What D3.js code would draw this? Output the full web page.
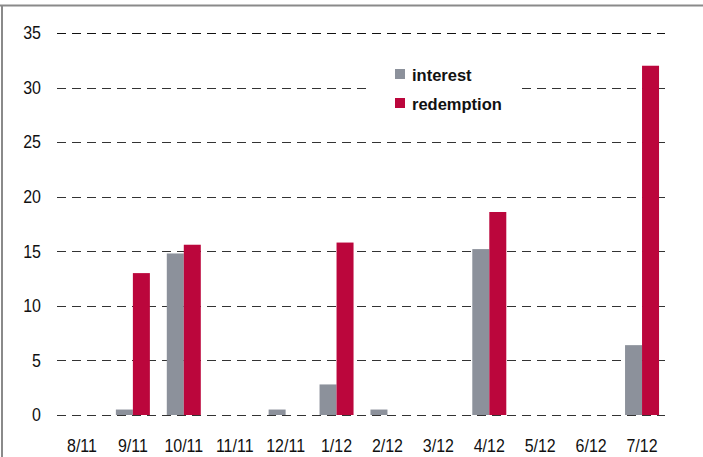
<!DOCTYPE html>
<html>
<head>
<meta charset="utf-8">
<script src="https://cdn.jsdelivr.net/npm/d3@7"></script>
<style>
  body { margin: 0; background: #fff; }
  svg { display: block; font-family: "Liberation Sans", Arial, sans-serif; }
</style>
</head>
<body>
<div id="chart"></div>
<script>
var months = ['8/11', '9/11', '10/11', '11/11', '12/11', '1/12', '2/12', '3/12', '4/12', '5/12', '6/12', '7/12'];
var interest   = [0, 0.5, 14.8, 0, 0.5, 2.8, 0.5, 0, 15.2, 0, 0, 6.4];
var redemption = [0, 13.0, 15.6, 0, 0, 15.8, 0, 0, 18.6, 0, 0, 32.0];
var yTicks = [0, 5, 10, 15, 20, 25, 30, 35];
var seriesNames = ['interest', 'redemption'];
var colors = ['#8c919b', '#bb063c'];

var width = 703, height = 457;

var svg = d3.select('#chart')
  .append('svg')
  .attr('width', width)
  .attr('height', height);

// frame: top and left border
svg.append('line')
  .attr('x1', 0).attr('x2', width)
  .attr('y1', 5.5).attr('y2', 5.5)
  .attr('stroke', '#8a8a8a').attr('stroke-width', 2);
svg.append('line')
  .attr('x1', 2).attr('x2', 2)
  .attr('y1', 5).attr('y2', height)
  .attr('stroke', '#8a8a8a').attr('stroke-width', 2);

var x = d3.scaleBand()
  .domain(months)
  .range([56.5, 667.5]);

var y = d3.scaleLinear()
  .domain([0, 35])
  .range([415, 33]);

// gridlines
var grid = svg.append('g');
grid.selectAll('line')
  .data(yTicks)
  .enter().append('line')
  .attr('x1', 57)
  .attr('x2', 665)
  .attr('y1', function(d){ return Math.round(y(d)) + 0.5; })
  .attr('y2', function(d){ return Math.round(y(d)) + 0.5; })
  .attr('stroke', function(d){ return d === 35 ? '#111' : '#333'; })
  .attr('stroke-width', 1)
  .attr('stroke-dasharray', '9,6');

// y axis labels (text in the source is a bit stretched vertically)
var yAxis = d3.axisLeft(y).tickValues(yTicks).tickSize(0).tickPadding(0);
var yg = svg.append('g')
  .attr('transform', 'translate(41,0)')
  .call(yAxis);
yg.select('.domain').remove();
yg.selectAll('text')
  .attr('font-size', 16)
  .attr('font-family', '"Liberation Sans", Arial, sans-serif')
  .attr('fill', '#111')
  .attr('transform', 'scale(1,1.12)');

// x axis labels
var xAxis = d3.axisBottom(x).tickSize(0).tickPadding(0);
var xg = svg.append('g')
  .attr('transform', 'translate(0,439)')
  .call(xAxis);
xg.select('.domain').remove();
xg.selectAll('text')
  .attr('font-size', 16)
  .attr('font-family', '"Liberation Sans", Arial, sans-serif')
  .attr('fill', '#111')
  .attr('transform', 'scale(1,1.12)');

// legend (white box hides gridline)
var legend = svg.append('g');
legend.append('rect')
  .attr('x', 370).attr('y', 60)
  .attr('width', 150).attr('height', 58)
  .attr('fill', '#fff');

var barW = 17;
var data = [interest, redemption];

data.forEach(function(series, si){
  svg.append('g')
    .selectAll('rect')
    .data(series)
    .enter().append('rect')
    .attr('x', function(d, i){
      var c = x(months[i]) + x.bandwidth() / 2;
      return si === 0 ? c - barW : c;
    })
    .attr('y', function(d){ return y(d); })
    .attr('width', barW)
    .attr('height', function(d){ return y(0) - y(d); })
    .attr('fill', colors[si]);
});

seriesNames.forEach(function(name, i){
  legend.append('rect')
    .attr('x', 395).attr('y', 69 + i * 29)
    .attr('width', 10).attr('height', 10)
    .attr('fill', colors[i]);
  legend.append('text')
    .attr('x', 412).attr('y', 81 + i * 29)
    .attr('font-size', 16.5)
    .attr('font-weight', 'bold')
    .attr('fill', '#111')
    .text(name);
});
</script>
</body>
</html>
